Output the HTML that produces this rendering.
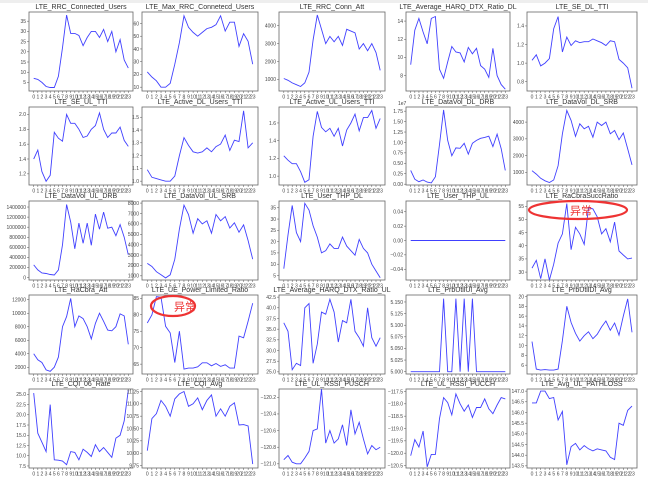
<!DOCTYPE html>
<html><head><meta charset="utf-8"><style>
body{margin:0;background:#fff;width:648px;height:485px;overflow:hidden}
svg{display:block}
text{font-family:"Liberation Sans","Noto Sans CJK SC",sans-serif}
</style></head><body>
<svg id="s" width="648" height="485" xmlns="http://www.w3.org/2000/svg">
<rect x="0" y="0" width="648" height="3" fill="#eee"/>
</svg>
<script>
const cols=[[29,133],[142,258],[279,385],[406,510],[527,637]];
const rows=[[12,91],[107,185],[201,280],[295,374],[389,468]];
function r(a,b,s){const o=[];for(let v=a;v<=b+1e-9;v+=s)o.push(+v.toFixed(6));return o;}
const C=[
["LTE_RRC_Connected_Users",0.8,39.5,r(5,35,5),x=>x,[7,6.5,5,3,2.5,2.5,8,22,38,29,29,28,23,27,30,30,27,31,25,30,20,26,16,12]],
["LTE_Max_RRC_Connetecd_Users",7,69,r(10,60,10),x=>x,[22,18,15,10,10,13,28,45,66,57,53,50,53,56,57,59,66,54,61,61,42,52,46,28]],
["LTE_RRC_Conn_Att",350,4765,r(1000,4000,1000),x=>x,[1050,950,800,700,600,800,1400,3200,4600,3800,3000,3400,3100,3400,2900,3800,3700,3600,2700,3000,2600,3000,2500,1500]],
["LTE_Average_HARQ_DTX_Ratio_DL",6.3,15,r(8,14,2),x=>x,[9.2,13,14.3,12.8,11.5,14.3,14.5,8.7,7.7,9.5,11.2,10.6,10.5,9.5,11.1,10.4,11,9.1,8.7,7.8,11,8,7,6.5]],
["LTE_SE_DL_TTI",0.7,1.55,r(0.8,1.4,0.2),x=>x.toFixed(1),[1.03,1.09,0.97,1.0,1.05,1.37,1.5,1.12,1.28,1.19,1.24,1.22,1.23,1.23,1.26,1.24,1.22,1.19,1.24,1.23,1.04,1.0,0.95,0.73]],
["LTE_SE_UL_TTI",1.05,2.1,r(1.2,2.0,0.2),x=>x.toFixed(1),[1.4,1.52,1.23,1.1,1.18,1.76,1.68,1.64,2.0,1.88,1.88,1.8,1.69,1.71,1.8,1.85,2.02,1.8,1.69,1.75,1.75,1.83,1.65,1.57]],
["LTE_Active_DL_Users_TTI",0.97,1.58,r(1.0,1.5,0.1),x=>x.toFixed(1),[1.09,1.03,1.02,1.01,1.0,1.0,1.04,1.2,1.34,1.28,1.23,1.22,1.23,1.26,1.23,1.27,1.29,1.36,1.24,1.32,1.31,1.55,1.26,1.30]],
["LTE_Active_UL_Users_TTI",0.9,1.78,r(1.0,1.6,0.2),x=>x.toFixed(1),[1.23,1.18,1.14,1.14,1.05,0.93,0.96,1.45,1.73,1.55,1.5,1.54,1.45,1.54,1.34,1.52,1.6,1.7,1.51,1.66,1.66,1.74,1.54,1.65]],
["LTE_DataVol_DL_DRB",-0.02,1.85,r(0,1.75,0.25),x=>x.toFixed(2),[0.33,0.12,0.06,0.1,0.05,0.03,0.18,0.95,1.78,1.05,0.68,0.87,0.86,0.98,0.72,0.98,1.05,1.1,1.12,1.15,0.9,1.2,0.85,0.33],"1e7"],
["LTE_DataVol_DL_SRB",250,4900,r(1000,4000,1000),x=>x,[1100,900,650,500,400,550,1400,3300,4700,4100,3150,3900,3600,3750,3100,4000,3800,4000,3300,3500,2950,3350,2400,1450]],
["LTE_DataVol_UL_DRB",-50000,1520000,r(0,1400000,200000),x=>x,[250000,150000,90000,80000,60000,50000,150000,650000,1450000,1100000,570000,1080000,680000,1080000,640000,1260000,960000,1300000,980000,1000000,830000,1050000,800000,450000]],
["LTE_DataVol_UL_SRB",600,8200,r(1000,8000,1000),x=>x,[2200,1900,1400,1100,800,1100,2600,5500,7800,6900,5100,6500,6000,6300,5100,6900,6300,6700,5600,6100,5200,5900,4400,2600]],
["LTE_User_THP_DL",3,38,r(5,35,5),x=>x,[8,23,36,24,20,37,34,27,22,15,16,19,17,17,22,18,16,14,21,17,15,10,7,4]],
["LTE_User_THP_UL",-0.055,0.055,r(-0.04,0.04,0.02),x=>x.toFixed(2).replace("-","\u2212"),Array(24).fill(0)],
["LTE_RaCbraSuccRatio",27,57,r(30,55,5),x=>x,[31.5,34.5,27.5,35,27,33,41,44.5,56,38.5,47,44.5,40.5,54.5,54,51,44.5,46.5,41.5,49,38,36.5,35,35.3]],
["LTE_RaCbra_Att",1000,12700,r(2000,12000,2000),x=>x,[4000,3100,2700,1600,1400,2000,3500,8000,9500,12200,8000,9600,9200,8000,6200,8500,10000,8800,7500,7400,8000,9900,9600,5400]],
["LTE_UE_Power_Limited_Ratio",62,86,r(65,85,5),x=>x,[77.5,80,85.5,85.3,76.5,74.5,65.5,75,63.5,63.8,63.8,64.2,65.4,65.4,64.5,65.2,64.3,64.8,63.8,63.8,73.5,73,78,83.5]],
["LTE_Average_HARQ_DTX_Ratio_UL",24.5,43,r(25,42.5,2.5),x=>x.toFixed(1),[36.5,34.5,25.5,27,26.5,40,41,27,31.5,39,38.5,42,39,32,37,36.5,42,34.5,33,31,40,33,31,33]],
["LTE_PrbUtilUl_Avg",4.995,5.165,r(5,5.15,0.025),x=>x.toFixed(3),[5,5,5,5,5,5,5,5,5.157,5,5,5.157,5,5.157,5,5.157,5,5,5,5,5,5,5,5]],
["LTE_PrbUtilDl_Avg",4.2,20.3,r(6,20,2),x=>x,[10.8,5.2,5,5.1,5,5,5.2,11,18,14.7,12.5,10.9,12,12.8,11.4,12.3,13.8,15,13.1,14.6,12.1,16,19.5,12.7]],
["LTE_CQI_06_Rate",7,26.3,r(7.5,25,2.5),x=>x.toFixed(1),[25.3,15.5,13.3,11,22.5,9,8.9,8.7,7.8,11,10.8,9,11.6,10.8,9.8,12.7,11,12,10.8,9.6,14.3,15,18.5,26]],
["LTE_CQI_Avg",9.7,11.3,r(9.75,11.25,0.25),x=>x.toFixed(2),[10.05,10.7,10.8,11.07,10.95,10.75,11.1,11.2,11.25,10.95,11,11.12,10.88,11.07,11.18,10.75,10.9,10.75,10.95,11.02,10.57,10.58,10.55,9.78]],
["LTE_UL_RSSI_PUSCH",-121.05,-120.1,r(-121,-120.2,0.2),x=>x.toFixed(1).replace("-","\u2212"),[-120.95,-120.9,-120.98,-121,-121,-120.93,-120.85,-120.6,-120.58,-120.1,-120.75,-120.6,-120.75,-120.7,-120.53,-120.78,-120.35,-120.64,-120.5,-120.7,-120.88,-120.78,-120.83,-120.8]],
["LTE_UL_RSSI_PUCCH",-120.6,-117.4,r(-120.5,-117.5,0.5),x=>x.toFixed(1).replace("-","\u2212"),[-120.1,-119.45,-119.75,-119.1,-120.55,-120.05,-120.05,-118.6,-117.75,-117.95,-118.45,-117.6,-118,-118.3,-118.05,-118.55,-118.15,-118.15,-117.8,-118.2,-118.4,-118.05,-117.75,-117.8]],
["LTE_Avg_UL_PATHLOSS",143.4,147.1,r(143.5,147,0.5),x=>x.toFixed(1),[146.45,146.45,147,147,146.65,146.7,145.65,146.05,143.55,144.4,144.55,144.25,144.45,144.3,144.2,144.3,144.25,144.2,143.9,143.8,145.5,145.4,146.1,146.3]]
];
let h="";
C.forEach((c,k)=>{
 const [L,R]=cols[k%5],[T,B]=rows[Math.floor(k/5)];
 const [title,lo,hi,ticks,fmt,data,off]=c;
 const W=R-L,H=B-T;
 const X=i=>L+W*(i+1.15)/25.3, Y=v=>B-H*(v-lo)/(hi-lo);
 h+=`<text x="${(L+R)/2}" y="${T-3}" font-size="7" text-anchor="middle" fill="#333">${title}</text>`;
 h+=`<rect x="${L}" y="${T}" width="${W}" height="${H}" fill="none" stroke="#666" stroke-width="0.8"/>`;
 ticks.forEach(t=>{const y=Y(t);h+=`<line x1="${L-2}" x2="${L}" y1="${y}" y2="${y}" stroke="#555" stroke-width="0.5"/><text x="${L-3}" y="${y+1.8}" font-size="5" text-anchor="end" fill="#444">${fmt(t)}</text>`;});
 for(let i=0;i<24;i++){const x=X(i);h+=`<line x1="${x}" x2="${x}" y1="${B}" y2="${B+2}" stroke="#555" stroke-width="0.5"/><text x="${x}" y="${B+7.5}" font-size="5" text-anchor="middle" fill="#444">${i}</text>`;}
 if(off)h+=`<text x="${L-8}" y="${T-2}" font-size="5" fill="#444">${off}</text>`;
 h+=`<polyline fill="none" stroke="#4040ff" stroke-width="0.9" points="${data.map((v,i)=>X(i).toFixed(1)+","+Y(v).toFixed(1)).join(" ")}"/>`;
});
h+=`<ellipse cx="578" cy="210" rx="49" ry="9" fill="none" stroke="#e33" stroke-width="2.2"/><text x="570" y="214.5" font-size="11" fill="#e33">异常</text>`;
h+=`<ellipse cx="173" cy="306" rx="22" ry="10" fill="none" stroke="#e33" stroke-width="2.2"/><text x="174" y="310.5" font-size="11" fill="#e33">异常</text>`;
document.getElementById("s").insertAdjacentHTML("beforeend",h);
</script>
</body></html>
